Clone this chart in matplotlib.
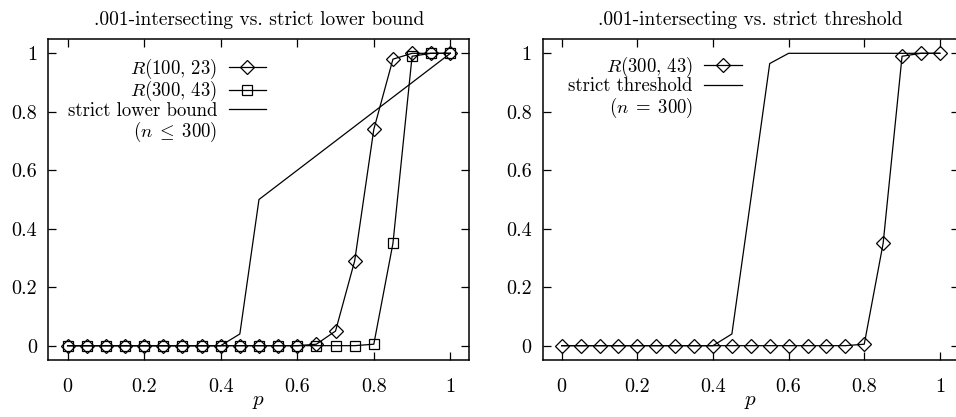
import matplotlib
matplotlib.use("Agg")
import matplotlib.pyplot as plt

plt.rcParams['font.family'] = ['cmr10', 'DejaVu Serif']
plt.rcParams['mathtext.fontset'] = 'cm'
plt.rcParams['axes.formatter.use_mathtext'] = True

# ---- data ----
p = [0.00, 0.05, 0.10, 0.15, 0.20, 0.25, 0.30, 0.35, 0.40, 0.45, 0.50,
     0.55, 0.60, 0.65, 0.70, 0.75, 0.80, 0.85, 0.90, 0.95, 1.00]
r100_23 = [0, 0, 0, 0, 0, 0, 0, 0, 0, 0, 0, 0, 0, 0.005, 0.05, 0.29, 0.74,
           0.98, 1.0, 1.0, 1.0]
r300_43 = [0, 0, 0, 0, 0, 0, 0, 0, 0, 0, 0, 0, 0, 0, 0, 0, 0.005, 0.35,
           0.99, 1.0, 1.0]
lower_bound_p = [0.00, 0.40, 0.45, 0.50, 1.00]
lower_bound = [0.0, 0.0, 0.04, 0.50, 1.00]
threshold_p = [0.00, 0.40, 0.45, 0.50, 0.55, 0.60, 1.00]
threshold = [0.0, 0.0, 0.04, 0.50, 0.965, 1.0, 1.0]

xticks = [0, 0.2, 0.4, 0.6, 0.8, 1]
xticklabels = ['0', '0.2', '0.4', '0.6', '0.8', '1']
yticks = [0, 0.2, 0.4, 0.6, 0.8, 1]
yticklabels = ['0', '0.2', '0.4', '0.6', '0.8', '1']

titles = ['.001-intersecting vs. strict lower bound',
          '.001-intersecting vs. strict threshold']

fig = plt.figure(figsize=(9.56, 4.17), dpi=100)
ax1 = fig.add_axes([0.0507, 0.136, 0.4404, 0.7712])
ax2 = fig.add_axes([0.5678, 0.136, 0.4351, 0.7712])

lw = 0.9
ms_d = 7.5
ms_s = 7.0
tick_fs = 14.5
leg_fs = 13.5

def style(ax, title):
    ax.set_xlim(-0.05, 1.05)
    ax.set_ylim(-0.05, 1.05)
    ax.set_xticks(xticks)
    ax.set_xticklabels(xticklabels)
    ax.set_yticks(yticks)
    ax.set_yticklabels(yticklabels)
    ax.tick_params(direction='in', length=6, width=0.9, top=True, right=True,
                   labelsize=tick_fs)
    ax.tick_params(axis='x', pad=13)
    ax.tick_params(axis='y', pad=8)
    for s in ax.spines.values():
        s.set_linewidth(1.1)
    ax.set_xlabel(r'$p$', fontsize=15, labelpad=-2)
    ax.set_title(title, fontsize=14, pad=10)

def legend(ax, anchor, extra, idx):
    leg = ax.legend(loc='upper right', bbox_to_anchor=anchor,
                    frameon=False, markerfirst=False, fontsize=leg_fs,
                    borderpad=0, borderaxespad=0, handlelength=2.0,
                    handletextpad=0.6, labelspacing=-0.08)
    t = leg.get_texts()[idx]
    ax.annotate(extra, xy=(1, 0), xycoords=t, xytext=(0, 0),
                textcoords='offset points', ha='right', va='top',
                fontsize=leg_fs, zorder=10)

# left panel
ax1.plot(p, r100_23, color='black', lw=lw, marker='D', ms=ms_d, mfc='none',
         mew=0.9, label=r'$R(100,\,23)$')
ax1.plot(p, r300_43, color='black', lw=lw, marker='s', ms=ms_s, mfc='none',
         mew=0.9, label=r'$R(300,\,43)$')
ax1.plot(lower_bound_p, lower_bound, color='black', lw=lw,
         label='strict lower bound')
style(ax1, titles[0])
legend(ax1, (0.517, 0.945), r'$(n\;\leq\;300)$', 2)

# right panel
ax2.plot(p, r300_43, color='black', lw=lw, marker='D', ms=ms_d, mfc='none',
         mew=0.9, label=r'$R(300,\,43)$')
ax2.plot(threshold_p, threshold, color='black', lw=lw,
         label='strict threshold')
style(ax2, titles[1])
legend(ax2, (0.478, 0.95), r'$(n\;=\;300)$', 1)

fig.canvas.draw()
fig.savefig('out.png', dpi=100)
